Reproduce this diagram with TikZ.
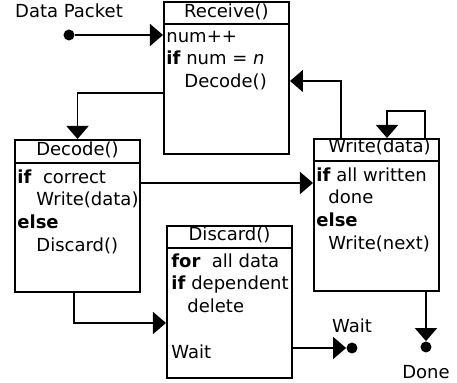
\documentclass[tikz,border=0pt]{standalone}
\usepackage{fontspec}
\setmainfont{DejaVu Sans}
\usetikzlibrary{calc, arrows.meta, positioning}

\begin{document}
\begin{tikzpicture}[x=0.5pt, y=-0.5pt, font=\fontsize{9}{11.35}\selectfont,
    unit/.style={draw, line width=1pt, inner sep=0pt, minimum width=62.5pt, minimum height=76pt, anchor=north west},
    body/.style={anchor=north west, align=left, inner sep=0pt},
    flow/.style={line width=0.8pt, -{Triangle[length=6.5pt, width=11pt]}},
    dot/.style={circle, fill, inner sep=0pt, minimum size=5.5pt}]
    \useasboundingbox (0,0) rectangle (457,383);
    % Receive()
    \node[unit] (recv) at (163,1) {};
    \node[anchor=base] (recvt) at ($(recv.north)+(0,17)$) {Receive()};
    \draw[line width=0.8pt] ($(recv.north west)+(0,23)$) -- ($(recv.north east)+(0,23)$);
    \node[body] (recvb) at ($(recv.north west)+(3,25)$) {\strut num++\\ \textbf{if} num = \textit{n}\\ \hspace{9pt}Decode()};
    % Decode()
    \node[unit] (dec) at (14,139) {};
    \node[anchor=base] (dect) at ($(dec.north)+(0,17)$) {Decode()};
    \draw[line width=0.8pt] ($(dec.north west)+(0,24)$) -- ($(dec.north east)+(0,24)$);
    \node[body] (decb) at ($(dec.north west)+(3,28)$) {\strut\textbf{if}\ \ correct\\ \hspace{9.5pt}Write(data)\\ \textbf{else}\\ \hspace{9.5pt}Discard()};
    % Write(data)
    \node[unit] (wr) at (313,138) {};
    \node[anchor=base] (wrt) at ($(wr.north)+(3,15)$) {Write(data)};
    \draw[line width=0.8pt] ($(wr.north west)+(0,23)$) -- ($(wr.north east)+(0,23)$);
    \node[body] (wrb) at ($(wr.north west)+(3,27)$) {\strut\textbf{if} all written\\ \hspace{6pt}done\\ \textbf{else}\\ \hspace{6pt}Write(next)};
    % Discard()
    \node[unit] (disc) at (166,225) {};
    \node[anchor=base] (disct) at ($(disc.north)+(0,16)$) {Discard()};
    \draw[line width=0.8pt] ($(disc.north west)+(0,23)$) -- ($(disc.north east)+(0,23)$);
    \node[body] (discb) at ($(disc.north west)+(5,26)$) {\strut\textbf{for}\ \ all data\\ \textbf{if} dependent\\ \hspace{8pt}delete\\ \mbox{}\\ Wait};
    % end points
    \node[dot, label={[label distance=2pt]above:Data Packet}] (pkt) at (69,35) {};
    \node[dot, label={[label distance=1pt]above:Wait}] (wait) at (352,348) {};
    \node[dot, label={[label distance=2.5pt]below:Done}] (done) at (426,347) {};
    % connectors
    \draw[flow] (pkt) -- (pkt -| recv.west);
    \draw[flow] ($(recv.north west)+(0,92)$) -| (dec.north);
    \draw[flow] ($(dec.north east)+(0,44)$) -- ($(wr.north west)+(0,45)$);
    \draw[flow] ($(wr.north west)+(28,0)$) |- ($(recv.north east)+(0,80)$);
    \draw[flow] ($(wr.north east)+(-15,0)$) -- ++(0,-27) -| ($(wr.north west)+(74,0)$);
    \draw[flow] ($(dec.south west)+(60,0)$) |- ($(disc.north west)+(0,98)$);
    \draw[flow] ($(disc.north east)+(0,123)$) -- (wait.west);
    \draw[flow] (wr.south -| done) -- (done.north);
\end{tikzpicture}
\end{document}
